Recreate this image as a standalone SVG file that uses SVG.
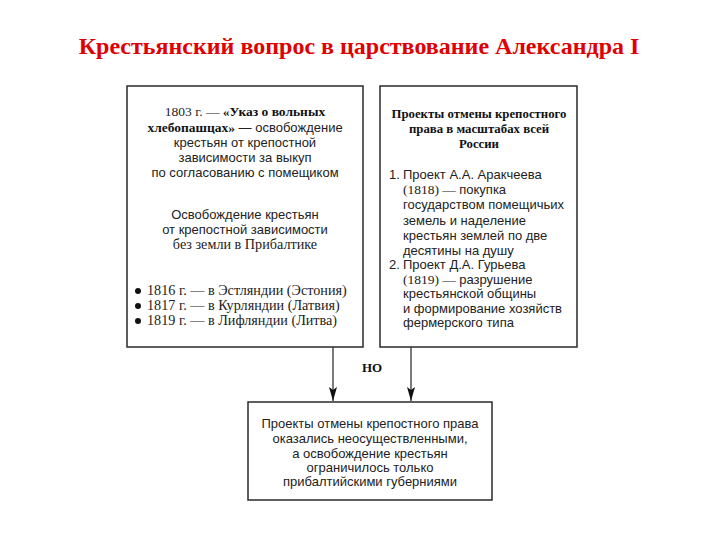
<svg xmlns="http://www.w3.org/2000/svg" width="720" height="540" viewBox="0 0 720 540">
<defs>
<style>
.box{fill:#fff;stroke:#2a2a2a;stroke-width:1.5}
.s{font-family:"Liberation Sans",Arial,sans-serif;font-size:13px;fill:#222}
.r{font-family:"Liberation Serif","Times New Roman",serif;font-size:13.5px;fill:#222}
.rb{font-family:"Liberation Serif","Times New Roman",serif;font-size:14.2px;fill:#222}
.b{font-family:"Liberation Serif","Times New Roman",serif;font-weight:bold;fill:#111}
.c{text-anchor:middle}
.ln{stroke:#333;stroke-width:1.3;fill:none}
</style>
<marker id="ah" viewBox="0 0 14 8" refX="14" refY="4" markerWidth="14" markerHeight="8" markerUnits="userSpaceOnUse" orient="auto">
<path d="M0,0 L14,4 L0,8 L3,4 Z" fill="#111"/>
</marker>
</defs>
<rect width="720" height="540" fill="#fff"/>
<text x="359" y="54" class="b c" font-size="24" style="fill:#e00000">Крестьянский вопрос в царствование Александра I</text>

<g id="connectors">
<line class="ln" x1="333" y1="347" x2="333" y2="401" marker-end="url(#ah)"/>
<line class="ln" x1="411" y1="347" x2="411" y2="401" marker-end="url(#ah)"/>
<text x="372" y="372" class="b c" font-size="13">НО</text>
</g>

<g id="left-box">
<rect class="box" x="127" y="86" width="236" height="261"/>
<text x="245" y="116" class="c"><tspan class="r">1803 г. — </tspan><tspan class="b" font-size="13.5">«Указ о вольных</tspan></text>
<text x="245" y="132" class="c"><tspan class="b" font-size="13.5">хлебопашцах»</tspan><tspan class="s"> — освобождение</tspan></text>
<text x="245" y="147" class="s c">крестьян от крепостной</text>
<text x="245" y="162" class="s c">зависимости за выкуп</text>
<text x="245" y="177" class="s c">по согласованию с помещиком</text>
<text x="245" y="219" class="s c">Освобождение крестьян</text>
<text x="245" y="234" class="s c">от крепостной зависимости</text>
<text x="245" y="249" class="rb c">без земли в Прибалтике</text>
<circle cx="138" cy="291" r="3" fill="#111"/>
<circle cx="138" cy="306" r="3" fill="#111"/>
<circle cx="138" cy="321" r="3" fill="#111"/>
<text x="147" y="295" class="rb">1816 г. — в Эстляндии (Эстония)</text>
<text x="147" y="310" class="rb">1817 г. — в Курляндии (Латвия)</text>
<text x="147" y="325" class="rb">1819 г. — в Лифляндии (Литва)</text>
</g>

<g id="right-box">
<rect class="box" x="380" y="86" width="197" height="261"/>
<text x="479" y="118" class="b c" font-size="12.8">Проекты отмены крепостного</text>
<text x="479" y="133" class="b c" font-size="12.8">права в масштабах всей</text>
<text x="479" y="148" class="b c" font-size="12.8">России</text>
<text x="389" y="179" class="s">1.</text>
<text x="403" y="179" class="s">Проект А.А. Аракчеева</text>
<text x="403" y="194"><tspan class="r">(1818) — </tspan><tspan class="s">покупка</tspan></text>
<text x="403" y="209" class="s">государством помещичьих</text>
<text x="403" y="225" class="s">земель и наделение</text>
<text x="403" y="240" class="s">крестьян землей по две</text>
<text x="403" y="255" class="s">десятины на душу</text>
<text x="389" y="269" class="s">2.</text>
<text x="403" y="269" class="s">Проект Д.А. Гурьева</text>
<text x="403" y="284"><tspan class="r">(1819) — </tspan><tspan class="s">разрушение</tspan></text>
<text x="403" y="298" class="s">крестьянской общины</text>
<text x="403" y="313" class="s">и формирование хозяйств</text>
<text x="403" y="327" class="s">фермерского типа</text>
</g>

<g id="bottom-box">
<rect class="box" x="248" y="402" width="244" height="98"/>
<text x="370" y="428" class="s c">Проекты отмены крепостного права</text>
<text x="370" y="443" class="s c">оказались неосуществленными,</text>
<text x="370" y="458" class="s c">а освобождение крестьян</text>
<text x="370" y="472" class="s c">ограничилось только</text>
<text x="370" y="486" class="s c">прибалтийскими губерниями</text>
</g>
</svg>
